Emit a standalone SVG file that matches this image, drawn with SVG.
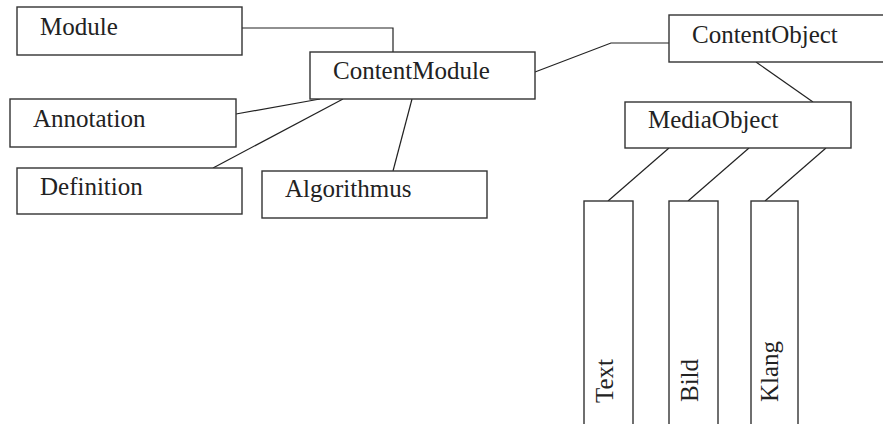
<svg xmlns="http://www.w3.org/2000/svg" width="883" height="424" viewBox="0 0 883 424">
<style>
.box{fill:#fff;stroke:#333;stroke-width:1.4}
.lbl{font-family:"Liberation Serif","Times New Roman",serif;font-size:25px;fill:#222}
.con{fill:none;stroke:#222;stroke-width:1.2}
</style>
<rect width="883" height="424" fill="#fff"/>
<g id="connectors">
<polyline class="con" points="242,28 393,28 393,52"/>
<line class="con" x1="236" y1="114" x2="320" y2="99"/>
<line class="con" x1="213" y1="168" x2="343" y2="99"/>
<line class="con" x1="393" y1="171" x2="412" y2="99"/>
<polyline class="con" points="535,72 611,43 669,43"/>
<line class="con" x1="756" y1="62" x2="813" y2="102"/>
<line class="con" x1="669" y1="148" x2="608" y2="201"/>
<line class="con" x1="749" y1="148" x2="688" y2="201"/>
<line class="con" x1="826" y1="148" x2="765" y2="201"/>
</g>
<g id="node-module">
<rect class="box" x="17" y="7" width="225" height="48"/>
<text class="lbl" x="40" y="35">Module</text>
</g>
<g id="node-contentmodule">
<rect class="box" x="310" y="52" width="225" height="47"/>
<text class="lbl" x="333" y="79">ContentModule</text>
</g>
<g id="node-annotation">
<rect class="box" x="10" y="99" width="226" height="48"/>
<text class="lbl" x="33" y="127">Annotation</text>
</g>
<g id="node-definition">
<rect class="box" x="17" y="168" width="225" height="46"/>
<text class="lbl" x="40" y="195">Definition</text>
</g>
<g id="node-algorithmus">
<rect class="box" x="262" y="171" width="225" height="47"/>
<text class="lbl" x="285" y="197">Algorithmus</text>
</g>
<g id="node-contentobject">
<rect class="box" x="669" y="15" width="226" height="47"/>
<text class="lbl" x="692" y="43">ContentObject</text>
</g>
<g id="node-mediaobject">
<rect class="box" x="625" y="102" width="226" height="46"/>
<text class="lbl" x="648" y="128">MediaObject</text>
</g>
<g id="node-text">
<rect class="box" x="584" y="201" width="49" height="240"/>
<text class="lbl" transform="translate(613,403) rotate(-90)">Text</text>
</g>
<g id="node-bild">
<rect class="box" x="669" y="201" width="49" height="240"/>
<text class="lbl" transform="translate(698,402) rotate(-90)">Bild</text>
</g>
<g id="node-klang">
<rect class="box" x="751" y="201" width="47" height="240"/>
<text class="lbl" transform="translate(778,402) rotate(-90)">Klang</text>
</g>
</svg>
